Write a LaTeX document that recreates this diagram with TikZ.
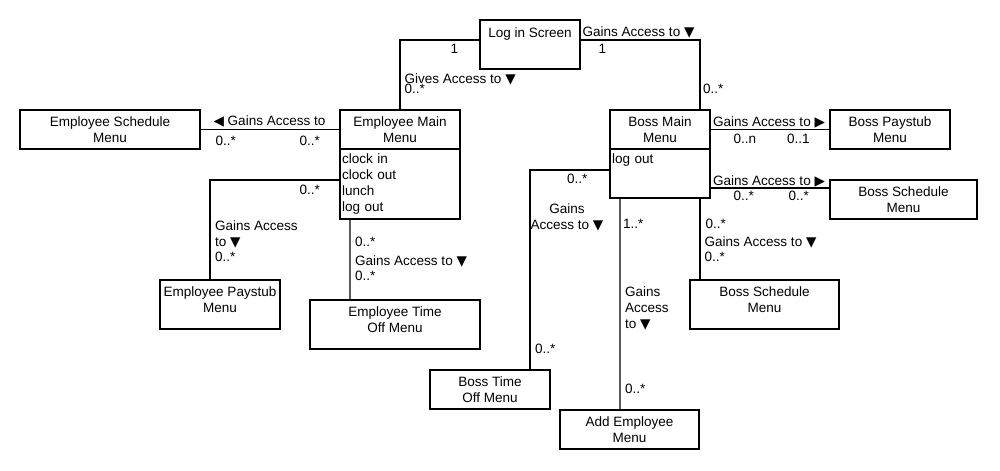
\documentclass[tikz,border=0pt]{standalone}
\usepackage{fontspec}
\setmainfont{Liberation Sans}
\newfontfamily\trifont{DejaVu Sans}
\usetikzlibrary{positioning}
\newcommand{\tridown}{{\trifont\char"25BC}}
\newcommand{\triright}{{\trifont\char"25B6}}
\newcommand{\trileft}{{\trifont\char"25C0}}

\begin{document}
\begin{tikzpicture}[
  line width=0.6pt,
  box/.style={draw, outer sep=0pt, inner sep=0pt, align=center,
              minimum height=0.78cm},
  tall/.style={text height=0.652cm, text depth=0.328cm},
  ops/.style={draw, outer sep=0pt, inner ysep=0pt, inner xsep=0.04cm,
              align=left},
  lbl/.style={inner sep=0pt},
  every node/.style={font=\fontsize{7.7}{9.1}\selectfont}
]
  \useasboundingbox (0,0) rectangle (20,9.4);

  % classes
  \node[box, minimum width=2cm, text height=0.354cm, text depth=0.626cm]
       (login) at (10.6,8.51) {Log in Screen};

  \node[box, minimum width=2.4cm] (empmain) at (8.0,6.81) {Employee Main\\Menu};
  \node[ops, text width=2.32cm, minimum height=1.4cm, below=0pt of empmain]
       (empops) {clock in\\clock out\\lunch\\log out};

  \node[box, minimum width=2cm] (bossmain) at (13.2,6.81) {Boss Main\\Menu};
  \node[ops, text width=1.92cm, text height=0.286cm, text depth=0.694cm,
        below=0pt of bossmain] (bossops) {log out};

  \node[box, minimum width=3.6cm]  (empsched)   at (2.2,6.81)   {Employee Schedule\\Menu};
  \node[box, minimum width=2.4cm]  (bosspay)    at (17.8,6.81)  {Boss Paystub\\Menu};
  \node[box, minimum width=2.94cm] (bosssched)  at (18.07,5.41) {Boss Schedule\\Menu};
  \node[box, tall, minimum width=2.4cm]  (emppay)     at (4.4,3.31)   {Employee Paystub\\Menu};
  \node[box, tall, minimum width=3.4cm]  (emptime)    at (7.9,2.91)   {Employee Time\\Off Menu};
  \node[box, tall, minimum width=2.98cm] (bossschedb) at (15.29,3.31) {Boss Schedule\\Menu};
  \node[box, minimum width=2.4cm]  (bosstime)   at (9.8,1.61)   {Boss Time\\Off Menu};
  \node[box, minimum width=2.78cm] (addemp)     at (12.59,0.81) {Add Employee\\Menu};

  % associations
  \draw ([yshift=-0.4cm]login.north west) -| (empmain.north);
  \draw ([yshift=-0.4cm]login.north east) -| ([xshift=-0.2cm]bossmain.north east);
  \draw (empmain.west) -- (empsched.east);
  \draw ([yshift=-0.62cm]empops.north west) -| ([xshift=-0.2cm]emppay.north);
  \draw ([xshift=0.2cm]empops.south west) -- ([xshift=0.8cm]emptime.north west);
  \draw (bossmain.east) -- (bosspay.west);
  \draw ([yshift=0.2cm]bossops.south east) -- ([yshift=-0.16cm]bosssched.north west);
  \draw ([yshift=0.56cm]bossops.south west) -| ([xshift=0.8cm]bosstime.north);
  \draw ([xshift=0.2cm]bossops.south west) -- ([xshift=1.2cm]addemp.north west);
  \draw ([xshift=-0.2cm]bossops.south east) -- ([xshift=0.2cm]bossschedb.north west);

  % labels
  \node[lbl, anchor=base west] (ga1) at (11.64,8.68) {Gains Access to \tridown};
  \node[lbl, anchor=base] (n1a) at (9.09,8.34) {1};
  \node[lbl, anchor=base] (n1b) at (12.05,8.34) {1};
  \node[lbl, anchor=base west] (ga2) at (8.08,7.73) {Gives Access to \tridown};
  \node[lbl, anchor=base west] (m2a) at (8.08,7.53) {0..*};
  \node[lbl, anchor=base west] (m1a) at (14.05,7.53) {0..*};

  \node[lbl, anchor=base] (ga3) at (5.39,6.90) {\trileft{} Gains Access to};
  \node[lbl, anchor=base west] (m3a) at (4.30,6.50) {0..*};
  \node[lbl, anchor=base west] (m3b) at (5.98,6.50) {0..*};

  \node[lbl, anchor=base west] (m4a) at (5.98,5.51) {0..*};
  \node[lbl, anchor=north west, align=left] (ga4) at (4.29,5.0) {Gains Access\\to \tridown};
  \node[lbl, anchor=base west] (m4b) at (4.29,4.17) {0..*};

  \node[lbl, anchor=base west] (m5a) at (7.09,4.48) {0..*};
  \node[lbl, anchor=base west] (ga5) at (7.09,4.10) {Gains Access to \tridown};
  \node[lbl, anchor=base west] (m5b) at (7.09,3.80) {0..*};

  \node[lbl, anchor=base west] (ga6) at (14.25,6.87) {Gains Access to \triright};
  \node[lbl, anchor=base west] (m6a) at (14.66,6.53) {0..n};
  \node[lbl, anchor=base west] (m6b) at (15.73,6.53) {0..1};

  \node[lbl, anchor=base west] (ga7) at (14.25,5.70) {Gains Access to \triright};
  \node[lbl, anchor=base west] (m7a) at (14.66,5.40) {0..*};
  \node[lbl, anchor=base west] (m7b) at (15.76,5.40) {0..*};

  \node[lbl, anchor=base west] (m8a) at (11.33,5.73) {0..*};
  \node[lbl, anchor=north west, align=center] (ga8) at (10.60,5.33) {Gains\\Access to \tridown};
  \node[lbl, anchor=base west] (m8b) at (10.69,2.33) {0..*};

  \node[lbl, anchor=base west] (m9a) at (12.45,4.84) {1..*};
  \node[lbl, anchor=north west, align=left] (ga9) at (12.49,3.68) {Gains\\Access\\to \tridown};
  \node[lbl, anchor=base west] (m9b) at (12.49,1.53) {0..*};

  \node[lbl, anchor=base west] (m10a) at (14.10,4.84) {0..*};
  \node[lbl, anchor=base west] (ga10) at (14.08,4.47) {Gains Access to \tridown};
  \node[lbl, anchor=base west] (m10b) at (14.08,4.17) {0..*};
\end{tikzpicture}
\end{document}
